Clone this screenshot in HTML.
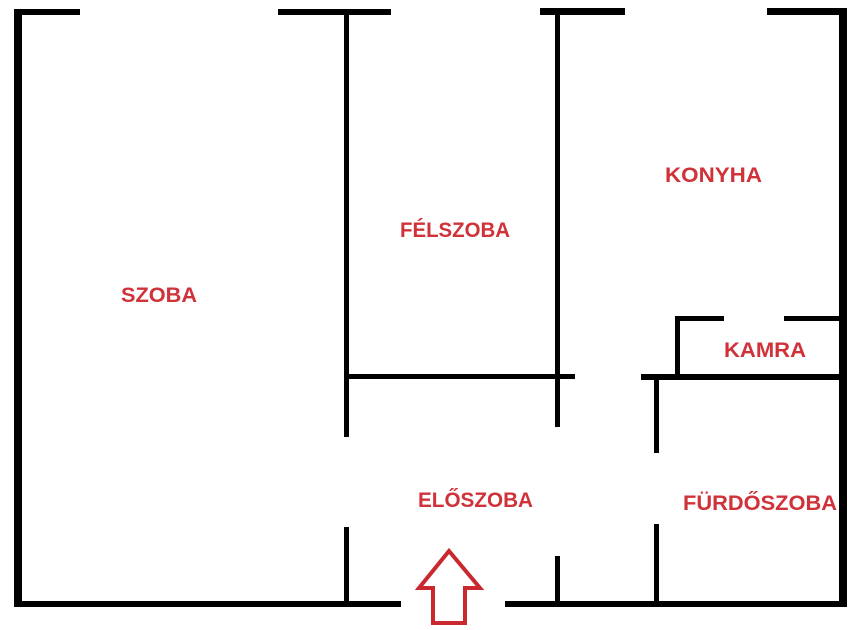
<!DOCTYPE html>
<html><head><meta charset="utf-8"><style>
html,body{margin:0;padding:0;background:#fff;}
svg{display:block;}
text{font-family:"Liberation Sans",sans-serif;font-weight:bold;fill:#d0323a;font-size:21px;}
</style></head><body>
<svg width="860" height="630" viewBox="0 0 860 630" xmlns="http://www.w3.org/2000/svg">
<g fill="#000">
<rect x="14" y="9" width="8" height="597"/>
<rect x="14" y="9" width="66" height="6"/>
<rect x="278" y="9" width="113" height="6"/>
<rect x="540" y="8" width="85" height="7"/>
<rect x="767" y="8" width="80" height="7"/>
<rect x="839" y="8" width="8" height="599"/>
<rect x="14" y="601" width="387" height="6"/>
<rect x="505" y="601" width="338" height="6"/>
<rect x="344" y="10" width="5" height="427"/>
<rect x="344" y="527" width="5" height="80"/>
<rect x="555" y="10" width="5" height="417"/>
<rect x="555" y="556" width="5" height="51"/>
<rect x="346" y="374" width="229" height="5"/>
<rect x="641" y="374" width="202" height="6"/>
<rect x="675" y="316" width="5" height="64"/>
<rect x="675" y="316" width="49" height="5"/>
<rect x="784" y="316" width="58" height="5"/>
<rect x="654" y="379" width="5" height="74"/>
<rect x="654" y="524" width="5" height="83"/>
</g>
<polygon points="449,551 419,588 433,588 433,623 465,623 465,588 480,588" fill="none" stroke="#c8282e" stroke-width="4" stroke-linejoin="miter"/>
<text x="121" y="302" textLength="76" lengthAdjust="spacingAndGlyphs">SZOBA</text>
<text x="400" y="237" textLength="110" lengthAdjust="spacingAndGlyphs">FÉLSZOBA</text>
<text x="665" y="182" textLength="97" lengthAdjust="spacingAndGlyphs">KONYHA</text>
<text x="724" y="357" textLength="82" lengthAdjust="spacingAndGlyphs">KAMRA</text>
<text x="418" y="507" textLength="115" lengthAdjust="spacingAndGlyphs">ELŐSZOBA</text>
<text x="683" y="510" textLength="154" lengthAdjust="spacingAndGlyphs">FÜRDŐSZOBA</text>
</svg>
</body></html>
